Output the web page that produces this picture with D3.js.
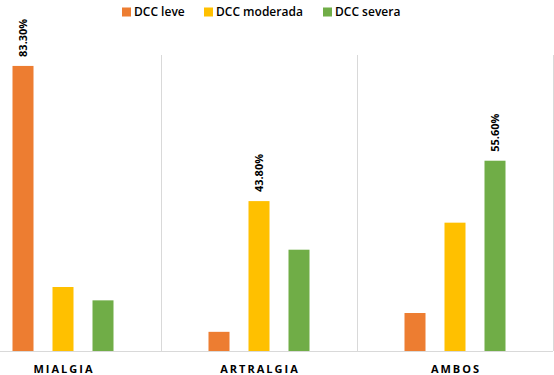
<!DOCTYPE html>
<html>
<head>
<meta charset="utf-8">
<script src="https://cdn.jsdelivr.net/npm/d3@7"></script>
<style>
  html, body { margin: 0; padding: 0; background: #fff; }
  svg { display: block; }
</style>
</head>
<body>
<svg id="chart" width="554" height="375"></svg>
<script>
const categories = ["MIALGIA", "ARTRALGIA", "AMBOS"];
const seriesNames = ["DCC leve", "DCC moderada", "DCC severa"];
const leve = [83.3, 5.6, 11.1];
const moderada = [18.7, 43.8, 37.5];
const severa = [14.8, 29.6, 55.6];
const labelShown = [["83.30%", "", ""], ["", "43.80%", ""], ["", "", "55.60%"]]; // [category][series]
const colors = ["#ED7D31", "#FFC000", "#70AD47"];

const seriesValues = [leve, moderada, severa];
const svg = d3.select("#chart");
const W = 554, H = 375;
const baseY = 351, plotTop = 55;
const font = "'Open Sans', 'Liberation Sans', sans-serif";

const x0 = d3.scaleBand().domain(categories).range([-35, 553]).paddingInner(0).paddingOuter(0);
const x1 = d3.scaleBand().domain(seriesNames).range([0, x0.bandwidth()]).paddingInner(0.475).paddingOuter(1.1875);
const y = d3.scaleLinear().domain([0, 90]).range([baseY, 43]);

// vertical separators
const sepXs = categories.slice(1).map(c => x0(c)).concat([x0(categories[categories.length - 1]) + x0.bandwidth() - 0.5]);
svg.append("g").selectAll("line").data(sepXs).join("line")
  .attr("x1", d => Math.round(d) + 0.5).attr("x2", d => Math.round(d) + 0.5)
  .attr("y1", plotTop).attr("y2", baseY)
  .attr("stroke", "#d9d9d9").attr("stroke-width", 1);

// bars
const rows = [];
categories.forEach((c, ci) => seriesNames.forEach((s, si) => {
  rows.push({ c, s, si, v: seriesValues[si][ci], label: labelShown[ci][si] });
}));

svg.append("g").selectAll("rect").data(rows).join("rect")
  .attr("x", d => x0(d.c) + x1(d.s))
  .attr("y", d => y(d.v))
  .attr("width", x1.bandwidth())
  .attr("height", d => baseY - y(d.v))
  .attr("fill", d => colors[d.si]);

// baseline axis
svg.append("line").attr("x1", 0).attr("x2", 553).attr("y1", baseY + 0.5).attr("y2", baseY + 0.5)
  .attr("stroke", "#d9d9d9").attr("stroke-width", 1);

// data labels
svg.append("g").selectAll("text").data(rows.filter(d => d.label)).join("text")
  .attr("transform", d => `translate(${x0(d.c) + x1(d.s) + x1.bandwidth() / 2},${y(d.v) - 9}) rotate(-90)`)
  .attr("dy", "0.35em")
  .attr("text-anchor", "start")
  .attr("font-family", font).attr("font-size", 11).attr("font-weight", 700)
  .attr("fill", "#000")
  .text(d => d.label);

// category labels
svg.append("g").selectAll("text").data(categories).join("text")
  .attr("x", d => x0(d) + x0.bandwidth() / 2 + 1)
  .attr("y", 373)
  .attr("text-anchor", "middle")
  .attr("font-family", font).attr("font-size", 11).attr("font-weight", 700)
  .attr("letter-spacing", "2px")
  .attr("fill", "#000")
  .text(d => d);

// legend
const legendX = [122, 204, 323];
const lg = svg.append("g").selectAll("g").data(seriesNames).join("g")
  .attr("transform", (d, i) => `translate(${legendX[i]},${12})`);
lg.append("rect").attr("x", 0).attr("y", -4.5).attr("width", 9).attr("height", 9).attr("fill", (d, i) => colors[i]);
lg.append("text").attr("x", 12).attr("dy", "0.35em")
  .attr("font-family", font).attr("font-size", 12).attr("font-weight", 600)
  .attr("fill", "#000").text(d => d);
</script>
</body>
</html>
